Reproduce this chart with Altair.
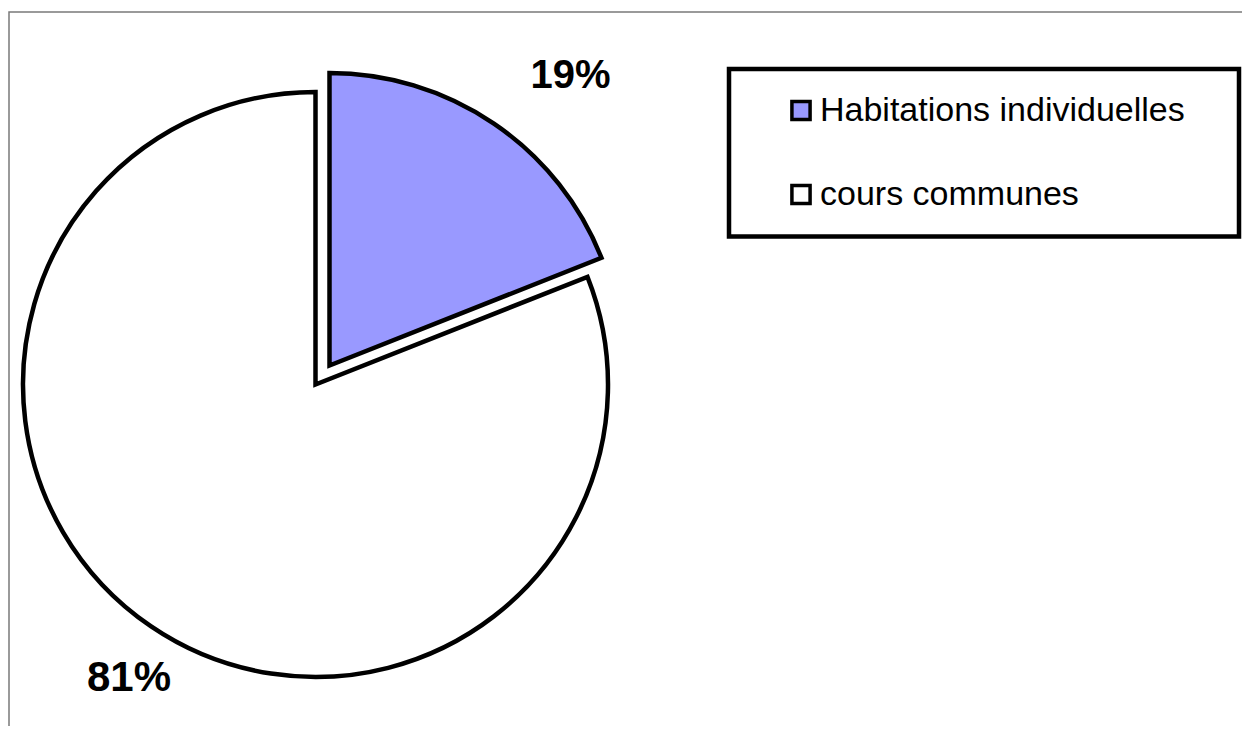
import altair as alt
import pandas as pd

categories = ["Habitations individuelles", "cours communes"]
values = [19, 81]
order = [0, 1]
colors = ["#9999FF", "#FFFFFF"]

df = pd.DataFrame({"category": categories, "value": values, "order": order})

FONT = "Liberation Sans"

base = (
    alt.Chart(df)
    .transform_joinaggregate(total="sum(value)")
    .transform_window(cum="sum(value)", sort=[alt.SortField("order")], frame=[None, 0])
    .transform_calculate(
        t0="(datum.cum - datum.value) / datum.total * 2 * PI",
        t1="datum.cum / datum.total * 2 * PI",
        tm="(datum.cum - datum.value / 2) / datum.total * 2 * PI",
        pct="format(datum.value / datum.total, '.0%')",
    )
)

color = alt.Color(
    "category:N",
    scale=alt.Scale(domain=categories, range=colors),
    legend=alt.Legend(
        title=None,
        orient="none",
        legendX=776,
        legendY=85.5,
        symbolType="square",
        symbolSize=330,
        symbolStrokeWidth=3.5,
        symbolStrokeColor="black",
        symbolOpacity=1,
        labelFont=FONT,
        labelFontSize=34,
        labelColor="black",
        labelOffset=2,
        labelLimit=800,
        rowPadding=50,
        padding=0,
    ),
)

# centers of the two slices (view coordinates)
WX, WY = 307.5, 376.5
BX, BY = 321.5, 357.5
R = 292.5
SW = 4.5

frame = alt.Chart(pd.DataFrame({"a": [0]})).mark_rect(
    fill="transparent", stroke="#7a7a7a", strokeWidth=1.5
).encode(x=alt.value(1), x2=alt.value(1400), y=alt.value(4), y2=alt.value(900))

white = (
    base.transform_filter(alt.datum.category == "cours communes")
    .mark_arc(radius=R, stroke="black", strokeWidth=SW, strokeJoin="miter")
    .encode(
        theta=alt.Theta("t0:Q", scale=None),
        theta2="t1:Q",
        color=color,
        x=alt.value(WX),
        y=alt.value(WY),
    )
)

blue = (
    base.transform_filter(alt.datum.category == "Habitations individuelles")
    .mark_arc(radius=R, stroke="black", strokeWidth=SW, strokeJoin="miter")
    .encode(
        theta=alt.Theta("t0:Q", scale=None),
        theta2="t1:Q",
        color=color,
        x=alt.value(BX),
        y=alt.value(BY),
    )
)

txt_blue = (
    base.transform_filter(alt.datum.category == "Habitations individuelles")
    .mark_text(radius=360, font=FONT, fontSize=40, fontWeight="bold", color="black",
               align="center", baseline="alphabetic", dx=38.7, dy=20.3)
    .encode(theta=alt.Theta("tm:Q", scale=None), text="pct:N",
            x=alt.value(BX), y=alt.value(BY))
)

txt_white = (
    base.transform_filter(alt.datum.category == "cours communes")
    .mark_text(radius=340, font=FONT, fontSize=42, fontWeight="bold", color="black",
               align="center", baseline="alphabetic", dx=4.6, dy=25.3)
    .encode(theta=alt.Theta("tm:Q", scale=None), text="pct:N",
            x=alt.value(WX), y=alt.value(WY))
)

box = alt.Chart(pd.DataFrame({"a": [0]})).mark_rect(
    fill="white", stroke="black", strokeWidth=4.5
).encode(x=alt.value(721), x2=alt.value(1231), y=alt.value(61), y2=alt.value(228.5))

chart = (
    alt.layer(frame, box, white, blue, txt_blue, txt_white)
    .properties(width=1234, height=718, padding=0,
                autosize=alt.AutoSizeParams(type="none"))
    .configure_view(stroke=None)
    .configure_legend(symbolStrokeWidth=3.5, symbolStrokeColor="black")
)

chart.save("out.html", embed_options={"renderer": "svg", "actions": False})
